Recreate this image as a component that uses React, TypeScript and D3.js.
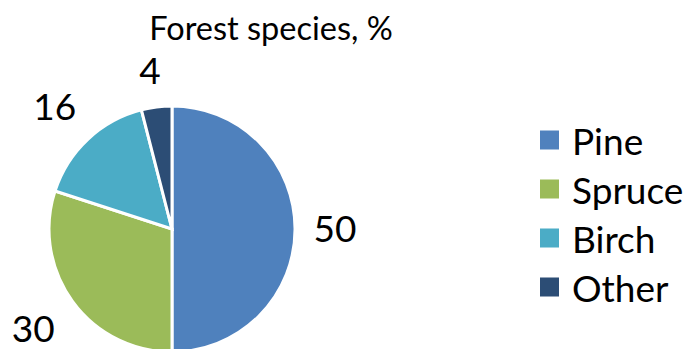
import React from "react";
import * as d3 from "d3";

const categories = ["Pine", "Spruce", "Birch", "Other"];
const values = [50, 30, 16, 4];
const colors = ["#4F81BD", "#9BBB59", "#4BACC6", "#2C4D75"];
const title = "Forest species, %";

const width = 692;
const height = 349;
const font = "Lato, 'Open Sans', sans-serif";

export default function App() {
  const cx = 172;
  const cy = 229;
  const radius = 123;

  const pie = d3
    .pie<number>()
    .sort(null)
    .value((d) => d)
    .startAngle(0)
    .endAngle(2 * Math.PI);
  const arcs = pie(values);
  const arc = d3.arc<d3.PieArcDatum<number>>().innerRadius(0).outerRadius(radius);

  const labelSize = 37;

  return (
    <svg
      width={width}
      height={height}
      style={{ position: "absolute", left: 0, top: 0, background: "white" }}
      fontFamily={font}
    >
      <text x={271} y={40} textAnchor="middle" fontSize={32.5} fill="#000">
        {title}
      </text>
      <g transform={`translate(${cx}, ${cy})`}>
        {arcs.map((a, i) => (
          <path
            key={categories[i]}
            d={arc(a) || ""}
            fill={colors[i]}
            stroke="white"
            strokeWidth={3}
          />
        ))}
        {arcs.map((a, i) => {
          const mid = (a.startAngle + a.endAngle) / 2;
          const s = Math.sin(mid);
          const c = -Math.cos(mid);
          const label = String(values[i]);
          const halfW = label.length * labelSize * 0.27;
          const halfH = labelSize * 0.36;
          const dist = radius + 22 + halfW * Math.abs(s) + halfH * Math.abs(c);
          return (
            <text
              key={label + i}
              x={dist * s - 2}
              y={dist * c + labelSize * 0.36}
              textAnchor="middle"
              fontSize={labelSize}
              fill="#000"
            >
              {label}
            </text>
          );
        })}
      </g>
      <g transform="translate(540, 140)">
        {categories.map((name, i) => (
          <g key={name} transform={`translate(0, ${i * 49})`}>
            <rect x={0} y={-9.5} width={19} height={19} fill={colors[i]} />
            <text x={32} y={0} dominantBaseline="central" fontSize={37} fill="#000">
              {name}
            </text>
          </g>
        ))}
      </g>
    </svg>
  );
}
